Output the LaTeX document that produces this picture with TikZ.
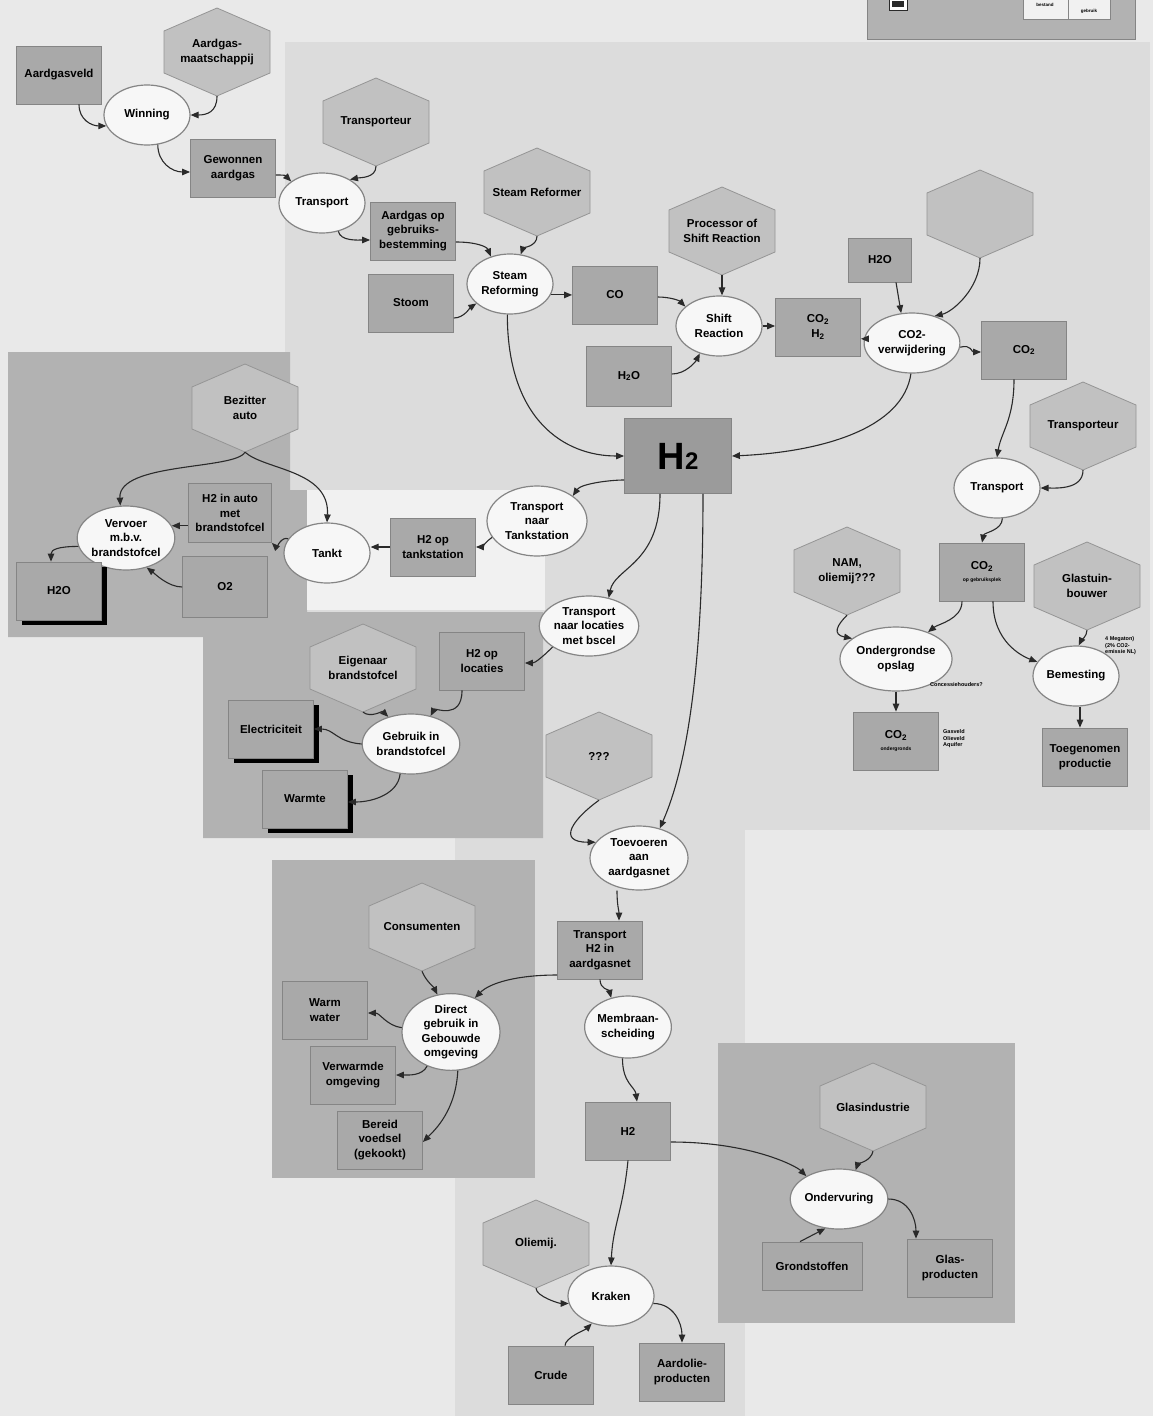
\documentclass[tikz,border=0pt]{standalone}
\usepackage{fontspec}
\setmainfont{Liberation Sans}
\usetikzlibrary{shapes.geometric,arrows.meta,shadows,calc}
\definecolor{bgc}{HTML}{E9E9E9}
\definecolor{midc}{HTML}{DCDCDC}
\definecolor{darkc}{HTML}{B2B2B2}
\definecolor{whitec}{HTML}{F1F1F1}
\definecolor{boxfill}{HTML}{A9A9A9}
\definecolor{boxline}{HTML}{858585}
\definecolor{bigfill}{HTML}{9B9B9B}
\definecolor{hexfill}{HTML}{C1C1C1}
\definecolor{hexline}{HTML}{959595}
\definecolor{elfill}{HTML}{F7F7F7}
\definecolor{elline}{HTML}{858585}
\definecolor{arrowc}{HTML}{2A2A2A}
\newcommand\lblfont{\fontsize{11.5}{14.5}\selectfont\bfseries}
\newcommand\hexat[4]{%
  \draw[hexshape] ({#2},{#3-44}) -- ({#2+53},{#3-21}) -- ({#2+53},{#3+21}) -- ({#2},{#3+44}) -- ({#2-53},{#3+21}) -- ({#2-53},{#3-21}) -- cycle;
  \node[hexlbl] (#1) at (#2,#3) {#4};}
\begin{document}
\begin{tikzpicture}[x=1pt,y=-1pt,
  nbox/.style={draw=boxline, fill=boxfill, line width=0.8pt, minimum width=85pt, minimum height=58pt, inner sep=1pt, align=center, font=\lblfont},
  nproc/.style={ellipse, draw=elline, fill=elfill, line width=1.2pt, minimum width=86pt, minimum height=60pt, inner sep=0pt, align=center, font=\lblfont},
  hexlbl/.style={minimum width=106pt, minimum height=88pt, inner sep=0pt, align=center, font=\lblfont},
  hexshape/.style={draw=hexline, fill=hexfill, line width=0.8pt},
  conn/.style={draw=arrowc, line width=1.1pt, -{Triangle[length=8pt,width=6.5pt]}},
  nshad/.style={drop shadow={shadow xshift=5pt, shadow yshift=-5pt, fill=black, opacity=1}},
  small/.style={font=\fontsize{5.5}{6.5}\selectfont\bfseries, align=left, inner sep=0pt},
]
\useasboundingbox (0,0) rectangle (1153,1416);
% backgrounds
\fill[bgc] (0,0) rectangle (1153,1416);
\fill[midc] (285,42) rectangle (1150,830);
\fill[midc] (455,830) rectangle (745,1416);
\fill[darkc] (8,352) -- (290,352) -- (290,490) -- (307,490) -- (307,612) -- (543,612) -- (543,838) -- (203,838) -- (203,637) -- (8,637) -- cycle;
\fill[whitec] (307,490) rectangle (545,610);
\fill[darkc] (272,860) rectangle (535,1178);
\fill[darkc] (718,1043) rectangle (1015,1323);
% legend
\draw[fill=darkc, draw=boxline] (867,-2) rectangle (1135,39);
\draw[fill=whitec, draw=boxline] (1023,-2) rectangle (1110,19);
\draw[draw=boxline] (1068,-2) -- (1068,19);
\draw[fill=white, draw=arrowc] (889,-2) rectangle (907,10);
\fill[arrowc] (892,1) rectangle (904,7);
\node[font=\fontsize{4.5}{5}\selectfont\bfseries, inner sep=0pt] (legA) at (1045,5) {bestand};
\node[font=\fontsize{4.5}{5}\selectfont\bfseries, inner sep=0pt] (legB) at (1089,11) {gebruik};

% nodes: top chain
\node[nbox] (aveld) at (59,75) {Aardgasveld};
\hexat{amij}{217}{52}{Aardgas-\\maatschappij}
\node[nproc] (winning) at (147,115) {Winning};
\node[nbox] (gewonnen) at (233,168) {Gewonnen\\aardgas};
\hexat{transpA}{376}{122}{Transporteur}
\node[nproc] (transportA) at (322,203) {Transport};
\node[nbox] (aop) at (413,231) {Aardgas op\\gebruiks-\\bestemming};
\hexat{sref}{537}{192}{Steam Reformer}
\node[nbox] (stoom) at (411,303) {Stoom};
\node[nproc] (sreforming) at (510,284) {Steam\\Reforming};
\node[nbox] (co) at (615,295) {CO};
\hexat{procsr}{722}{231}{Processor of\\Shift Reaction}
\node[nproc] (shift) at (719,326) {Shift\\Reaction};
\node[nbox, minimum height=60pt] (h2oA) at (629,376) {H\textsubscript{2}O};
\node[nbox] (co2h2) at (818,327) {CO\textsubscript{2}\\H\textsubscript{2}};
\node[nbox, minimum width=63pt, minimum height=44pt] (h2oB) at (880,260) {H2O};
\hexat{hexempty}{980}{214}{}
\node[nproc] (co2verw) at (912,343) {CO2-\\verwijdering};
\node[nbox] (co2) at (1024,350) {CO\textsubscript{2}};
\hexat{transpB}{1083}{426}{Transporteur}
\node[nproc] (transportB) at (997,488) {Transport};
\node[nbox, fill=bigfill, minimum width=107pt, minimum height=75pt, font=\fontsize{38}{40}\selectfont\bfseries] (h2big) at (678,456) {H{\fontsize{24}{24}\selectfont 2}};

% CO2 branch
\hexat{nam}{847}{571}{NAM,\\oliemij???}
\node[nbox] (co2geb) at (982,572) {CO\textsubscript{2}\\[-3pt]{\fontsize{5}{6}\selectfont op gebruiksplek}};
\hexat{glastuin}{1087}{586}{Glastuin-\\bouwer}
\node[nproc, minimum width=98pt, minimum height=64pt] (ondergr) at (896,659) {Ondergrondse\\opslag};
\node[nbox] (co2ond) at (896,741) {CO\textsubscript{2}\\[-3pt]{\fontsize{5}{6}\selectfont ondergronds}};
\node[nproc] (bemesting) at (1076,676) {Bemesting};
\node[nbox] (toegen) at (1085,757) {Toegenomen\\productie};
\node[small, anchor=west] (lconc) at (930,685) {Concessiehouders?};
\node[small, anchor=west] (lgas) at (943,739) {Gasveld\\Olieveld\\Aquifer};
\node[small, anchor=west] (lmeg) at (1105,646) {4 Megaton)\\(2\% CO2-\\emissie NL)};

% car branch
\node[nproc, minimum width=100pt, minimum height=70pt] (tnt) at (537,521) {Transport\\naar\\Tankstation};
\node[nbox] (h2tank) at (433,547) {H2 op\\tankstation};
\node[nproc] (tankt) at (327,553) {Tankt};
\node[nbox, minimum width=83pt, minimum height=59pt] (h2auto) at (230,513) {H2 in auto\\met\\brandstofcel};
\hexat{bezit}{245}{408}{Bezitter\\auto}
\node[nproc, minimum width=95pt, minimum height=64pt] (vervoer) at (126,538) {Vervoer\\m.b.v.\\brandstofcel};
\node[nbox, nshad] (h2oC) at (59,591) {H2O};
\node[nbox, minimum height=61pt] (o2) at (225,587) {O2};

% fuel cell branch
\node[nproc, minimum width=88pt, minimum height=60pt] (tnl) at (589,626) {Transport\\naar locaties\\met bscel};
\node[nbox] (h2loc) at (482,661) {H2 op\\locaties};
\hexat{eigen}{363}{668}{Eigenaar\\brandstofcel}
\node[nbox, nshad] (elec) at (271,729) {Electriciteit};
\node[nproc] (gebruik) at (411,744) {Gebruik in\\brandstofcel};
\node[nbox, nshad] (warmte) at (305,799) {Warmte};

% gas grid branch
\hexat{qqq}{599}{756}{???}
\node[nproc, minimum width=98pt, minimum height=64pt] (toevoeren) at (639,858) {Toevoeren\\aan\\aardgasnet};
\node[nbox] (th2) at (600,950) {Transport\\H2 in\\aardgasnet};
\hexat{consum}{422}{927}{Consumenten}
\node[nproc, minimum width=98pt, minimum height=74pt] (direct) at (451,1032) {Direct\\gebruik in\\Gebouwde\\omgeving};
\node[nbox] (warmw) at (325,1010) {Warm\\water};
\node[nbox] (verw) at (353,1075) {Verwarmde\\omgeving};
\node[nbox] (bereid) at (380,1140) {Bereid\\voedsel\\(gekookt)};
\node[nproc, minimum width=80pt, minimum height=62pt] (membraan) at (628,1027) {Membraan-\\scheiding};
\node[nbox] (h2low) at (628,1131) {H2};
\hexat{glasind}{873}{1107}{Glasindustrie}
\node[nproc, minimum width=84pt] (onderv) at (839,1199) {Ondervuring};
\node[nbox, minimum width=100pt, minimum height=48pt] (grond) at (812,1266) {Grondstoffen};
\node[nbox] (glasp) at (950,1268) {Glas-\\producten};
\hexat{oliemij}{536}{1244}{Oliemij.}
\node[nproc] (kraken) at (611,1296) {Kraken};
\node[nbox] (crude) at (551,1375) {Crude};
\node[nbox] (aardolie) at (682,1372) {Aardolie-\\producten};

% connectors
\draw[conn] ([xshift=20pt]aveld.south) .. controls +(0,16) and +(-14,0) .. (winning.195);
\draw[conn] (amij.south) .. controls +(0,16) and +(16,0) .. (winning.east);
\draw[conn] (winning.-70) .. controls +(0,18) and +(-18,0) .. ([yshift=-4pt]gewonnen.west);
\draw[conn] ([yshift=-7pt]gewonnen.east) .. controls +(10,0) and +(-6,-6) .. (transportA.145);
\draw[conn] (transpA.south) .. controls +(0,12) and +(10,-2) .. (transportA.40);
\draw[conn] (transportA.-60) .. controls +(2,10) and +(-12,0) .. ([yshift=-9pt]aop.west);
\draw[conn] ([yshift=-11pt]aop.east) .. controls +(20,0) and +(-4,-10) .. (sreforming.125);
\draw[conn] (sref.south) .. controls +(0,10) and +(2,-6) .. (sreforming.70);
\draw[conn] ([yshift=-15pt]stoom.east) .. controls +(10,0) and +(-6,4) .. (sreforming.210);
\draw[conn] (sreforming.-15) -- (sreforming.-15 -| co.west);
\draw[conn] ([yshift=-2pt]co.east) .. controls +(12,0) and +(-6,-6) .. (shift.150);
\draw[conn] (procsr.south) -- ([xshift=3pt]shift.north);
\draw[conn] ([yshift=2pt]h2oA.east) .. controls +(14,0) and +(-4,8) .. (shift.-125);
\draw[conn] (shift.east) -- (shift.east -| co2h2.west);
\draw[conn] ([xshift=16pt]h2oB.south) -- (co2verw.110);
\draw[conn] (hexempty.south) .. controls +(0,30) and +(18,-4) .. (co2verw.50);
\draw[conn] (co2verw.175) -- (co2verw.175 -| co2h2.east);
\draw[conn] (co2verw.-5) .. controls +(12,-3) and +(-10,0) .. ([yshift=-2pt]co2.west);
\draw[conn] (co2verw.-92) .. controls +(-8,55) and +(90,-4) .. (h2big.east);
\draw[conn] (sreforming.-95) .. controls +(0,105) and +(-60,0) .. (h2big.west);
\draw[conn] ([xshift=-10pt]co2.south) .. controls +(0,40) and +(4,-25) .. (transportB.north);
\draw[conn] (transpB.south) .. controls +(0,20) and +(14,0) .. (transportB.east);
\draw[conn] (transportB.-80) .. controls +(0,12) and +(2,-10) .. (co2geb.north);
\draw[conn] (nam.south) .. controls +(-10,10) and +(-20,-4) .. (ondergr.155);
\draw[conn] ([xshift=-20pt]co2geb.south) .. controls +(0,18) and +(10,-8) .. (ondergr.40);
\draw[conn] ([xshift=11pt]co2geb.south) .. controls +(0,40) and +(-16,-6) .. (bemesting.160);
\draw[conn] (glastuin.south) .. controls +(0,6) and +(2,-4) .. (bemesting.85);
\draw[conn] (ondergr.south) -- (co2ond.north);
\draw[conn] ([xshift=4pt]bemesting.south) -- ([xshift=4pt]bemesting.south |- toegen.north);
\draw[conn] ([yshift=-24pt]h2big.west) .. controls +(-15,0) and +(8,-12) .. (tnt.35);
\draw[conn] (tnt.-160) .. controls +(-6,4) and +(6,0) .. (h2tank.east);
\draw[conn] (h2tank.west) -- (h2tank.west -| tankt.east);
\draw[conn] (tankt.160) .. controls +(-6,-3) and +(4,4) .. (h2auto.south east);
\draw[conn] (h2auto.west |- vervoer.15) -- (vervoer.15);
\draw[conn] (o2.west) .. controls +(-14,0) and +(8,6) .. (vervoer.-55);
\draw[conn] (vervoer.190) .. controls +(-20,0) and +(0,-12) .. ([xshift=-8pt]h2oC.north);
\draw[conn] (bezit.south) .. controls (235,470) and (118,462) .. (vervoer.100);
\draw[conn] (bezit.south) .. controls (265,470) and (330,470) .. (tankt.north);
\draw[conn] ([xshift=-18pt]h2big.south) .. controls +(0,70) and +(6,-30) .. (tnl.55);
\draw[conn] (tnl.-150) .. controls +(-10,10) and +(10,0) .. ([yshift=-2pt]h2loc.east);
\draw[conn] ([xshift=-20pt]h2loc.south) .. controls +(0,30) and +(4,-8) .. (gebruik.55);
\draw[conn] (eigen.south) .. controls +(8,6) and +(-6,-6) .. (gebruik.130);
\draw[conn] (gebruik.180) .. controls +(-25,-2) and +(20,0) .. (elec.east);
\draw[conn] (gebruik.-110) .. controls +(-2,20) and +(25,0) .. ([yshift=-3pt]warmte.east);
\draw[conn] ([xshift=25pt]h2big.south) .. controls (703,650) and (690,760) .. (toevoeren.55);
\draw[conn] (qqq.south) .. controls +(-25,18) and +(-40,0) .. (toevoeren.160);
\draw[conn] ([xshift=-22pt]toevoeren.south) .. controls +(0,15) and +(0,-10) .. ([xshift=19pt]th2.north);
\draw[conn] ([yshift=-25pt]th2.west) .. controls +(-40,0) and +(15,-15) .. (direct.55);
\draw[conn] (th2.south) .. controls +(0,10) and +(-2,-8) .. (membraan.120);
\draw[conn] (consum.south) .. controls +(4,10) and +(-4,-8) .. (direct.110);
\draw[conn] (direct.175) .. controls +(-15,-2) and +(12,0) .. ([yshift=-3pt]warmw.east);
\draw[conn] (direct.-125) .. controls +(-5,10) and +(12,0) .. (verw.east);
\draw[conn] (direct.-80) .. controls +(-2,40) and +(12,-12) .. ([yshift=-2pt]bereid.east);
\draw[conn] (membraan.-100) .. controls +(0,25) and +(-2,-15) .. ([xshift=9pt]h2low.north);
\draw[conn] ([yshift=-11pt]h2low.east) .. controls +(80,0) and +(-10,-10) .. (onderv.145);
\draw[conn] (h2low.south) .. controls +(-5,50) and +(2,-40) .. (kraken.north);
\draw[conn] (glasind.south) .. controls +(-2,10) and +(2,-6) .. (onderv.60);
\draw[conn] ([xshift=-12pt]grond.north) -- (onderv.-115);
\draw[conn] (onderv.east) .. controls +(20,0) and +(0,-20) .. ([xshift=-34pt]glasp.north);
\draw[conn] (oliemij.south) .. controls +(0,8) and +(-10,0) .. (kraken.190);
\draw[conn] ([xshift=14pt]crude.north) .. controls +(0,-8) and +(-6,6) .. (kraken.-125);
\draw[conn] (kraken.-10) .. controls +(20,0) and +(0,-20) .. (aardolie.north);
\end{tikzpicture}
\end{document}
